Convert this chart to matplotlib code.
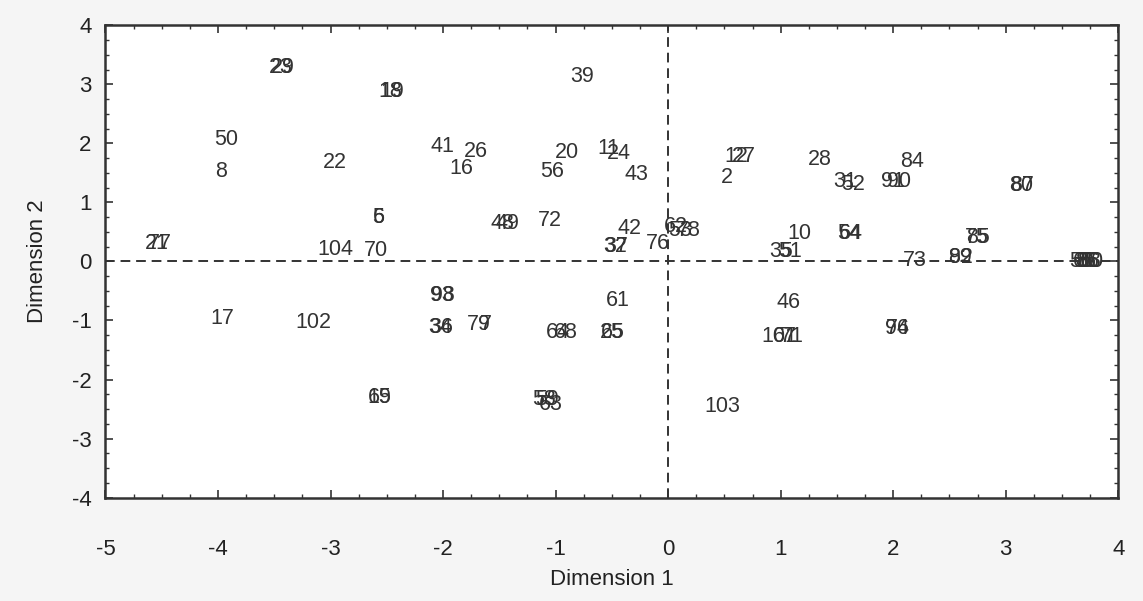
import matplotlib.pyplot as plt
from matplotlib.ticker import MultipleLocator

# point labels and their coordinates (Dimension 1, Dimension 2)
labels = ['23', '29', '18', '19', '39', '50', '8', '22', '41', '26', '16', '20', '56',
          '11', '24', '43', '12', '27', '2', '28', '31', '52', '84', '91', '90',
          '80', '87', '21', '77', '5', '6', '104', '70', '48', '49', '72', '42',
          '32', '37', '76', '62', '53', '78', '10', '35', '51', '54', '64', '73',
          '89', '92', '75', '85', '55', '66', '86', '88', '60', '17', '102', '93',
          '98', '34', '36', '79', '7', '64', '68', '25', '65', '61', '46', '101',
          '67', '71', '96', '74', '103', '15', '69', '58', '59', '63']
dim1 = [-3.44, -3.42, -2.47, -2.45, -0.76, -3.93, -3.97, -2.96, -2.01, -1.71, -1.84, -0.90, -1.03,
        -0.53, -0.44, -0.28, 0.61, 0.67, 0.52, 1.35, 1.57, 1.64, 2.17, 2.00, 2.05,
        3.14, 3.15, -4.54, -4.52, -2.58, -2.57, -2.96, -2.60, -1.47, -1.43, -1.05, -0.34,
        -0.47, -0.46, -0.09, 0.07, 0.11, 0.18, 1.17, 1.00, 1.08, 1.61, 1.62, 2.19,
        2.59, 2.60, 2.74, 2.75, 3.67, 3.70, 3.72, 3.74, 3.77, -3.96, -3.15, -2.01,
        -2.00, -2.03, -2.02, -1.68, -1.62, -0.98, -0.91, -0.50, -0.49, -0.45, 1.07, 0.99,
        1.04, 1.10, 2.03, 2.04, 0.48, -2.57, -2.56, -1.10, -1.08, -1.04]
dim2 = [3.28, 3.28, 2.87, 2.87, 3.13, 2.06, 1.52, 1.67, 1.94, 1.87, 1.58, 1.84, 1.52,
        1.91, 1.82, 1.47, 1.77, 1.77, 1.42, 1.72, 1.36, 1.30, 1.69, 1.36, 1.36,
        1.28, 1.28, 0.31, 0.31, 0.74, 0.74, 0.21, 0.19, 0.65, 0.65, 0.69, 0.55,
        0.25, 0.25, 0.30, 0.60, 0.53, 0.53, 0.48, 0.16, 0.16, 0.48, 0.48, 0.02,
        0.07, 0.07, 0.40, 0.40, 0.0, 0.0, 0.0, 0.0, 0.0, -0.97, -1.03, -0.57,
        -0.57, -1.12, -1.12, -1.07, -1.07, -1.21, -1.21, -1.21, -1.21, -0.67, -0.70, -1.27,
        -1.27, -1.27, -1.13, -1.13, -2.46, -2.30, -2.30, -2.33, -2.33, -2.43]

plt.rcParams['font.family'] = ['Liberation Sans', 'DejaVu Sans']
plt.rcParams['axes.unicode_minus'] = False

fig = plt.figure(figsize=(11.43, 6.01), dpi=100, facecolor='#f5f5f5')
ax = fig.add_axes([0.0923, 0.172, 0.886, 0.786])
ax.set_facecolor('white')

for lab, x, y in zip(labels, dim1, dim2):
    ax.text(x, y, lab, ha='center', va='center', fontsize=15.5, color='#333333')

ax.axhline(0, color='#333333', linestyle=(0, (5, 3)), linewidth=1.4)
ax.axvline(0, color='#333333', linestyle=(0, (5, 3)), linewidth=1.4)

ax.set_xlim(-5, 4)
ax.set_ylim(-4, 4)
ax.xaxis.set_major_locator(MultipleLocator(1))
ax.yaxis.set_major_locator(MultipleLocator(1))
ax.xaxis.set_minor_locator(MultipleLocator(0.25))
ax.yaxis.set_minor_locator(MultipleLocator(0.25))
ax.tick_params(which='both', direction='in', top=True, right=True, colors='#333333',
               labelsize=16, labelcolor='#222222')
ax.tick_params(which='major', length=6, width=1.2)
ax.tick_params(which='minor', length=3, width=1.0)
ax.tick_params(axis='x', which='major', pad=30)
ax.tick_params(axis='y', which='major', pad=10)
for s in ax.spines.values():
    s.set_color('#333333')
    s.set_linewidth(1.8)

ax.set_xlabel('Dimension 1', fontsize=16, color='#222222', labelpad=6)
ax.set_ylabel('Dimension 2', fontsize=16, color='#222222', labelpad=17)

fig.savefig('out.png', dpi=100, facecolor=fig.get_facecolor())
